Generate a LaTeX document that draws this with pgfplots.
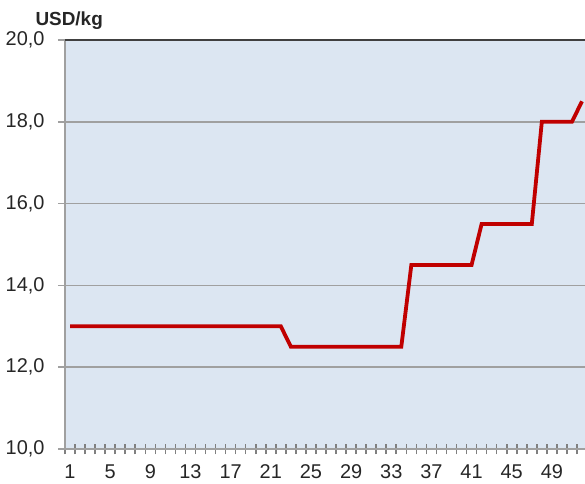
\documentclass[border=0pt]{standalone}
\usepackage{pgfplots}
\pgfplotsset{compat=1.18}
\usepackage{fontspec}
\setmainfont{Liberation Sans}
\definecolor{bgblue}{HTML}{DCE6F2}
\definecolor{linered}{HTML}{C00000}
\definecolor{gridgray}{HTML}{A0A0A0}
\definecolor{tickgray}{HTML}{808080}
\pgfplotstableread{
x y
1 13.0
2 13.0
3 13.0
4 13.0
5 13.0
6 13.0
7 13.0
8 13.0
9 13.0
10 13.0
11 13.0
12 13.0
13 13.0
14 13.0
15 13.0
16 13.0
17 13.0
18 13.0
19 13.0
20 13.0
21 13.0
22 13.0
23 12.5
24 12.5
25 12.5
26 12.5
27 12.5
28 12.5
29 12.5
30 12.5
31 12.5
32 12.5
33 12.5
34 12.5
35 14.5
36 14.5
37 14.5
38 14.5
39 14.5
40 14.5
41 14.5
42 15.5
43 15.5
44 15.5
45 15.5
46 15.5
47 15.5
48 18.0
49 18.0
50 18.0
51 18.0
52 18.5
}\pricedata
\begin{document}
\begin{tikzpicture}
\path[use as bounding box] (-65bp,-35bp) rectangle (520bp,449bp);
\begin{axis}[
  scale only axis,
  width=520bp, height=409bp,
  xmin=0.5, xmax=52.3,
  ymin=10, ymax=20,
  axis background/.style={fill=bgblue},
  axis line style={draw=none},
  xtick pos=lower,
  ytick pos=left,
  xtick={1,5,...,49},
  minor xtick={0.5,1.5,...,52.5},
  xtick style={draw=none},
  minor x tick style={draw=tickgray, line width=1.6bp},
  xtick align=center,
  minor tick length=11bp,
  ytick={10,12,...,20},
  ytick align=outside,
  ytick style={draw=gridgray, line width=1.6bp},
  major tick length=7bp,
  ymajorgrids,
  grid style={draw=gridgray, line width=1.6bp},
  ticklabel style={font=\fontsize{20}{20}\selectfont, text=black!85},
  xticklabel style={yshift=-9bp},
  yticklabel style={xshift=-10bp},
  /pgf/number format/assume math mode=true,
  yticklabel={\pgfmathprintnumber[fixed, fixed zerofill, precision=1, use comma]{\tick}},
  clip=false,
]
\draw[gridgray, line width=1.6bp] (rel axis cs:0,0) -- (rel axis cs:1,0);
\draw[gridgray, line width=1.6bp] (rel axis cs:0,0) -- (rel axis cs:0,1);
\draw[black!75, line width=1.6bp] (rel axis cs:0,1) -- (rel axis cs:1,1);
\addplot[linered, line width=3.8bp, line join=miter] table[x=x, y=y] {\pricedata};
\end{axis}
\node[anchor=base west, font=\bfseries\fontsize{19}{19}\selectfont, text=black!85] at (-33bp,423bp) {USD/kg};
\end{tikzpicture}
\end{document}
